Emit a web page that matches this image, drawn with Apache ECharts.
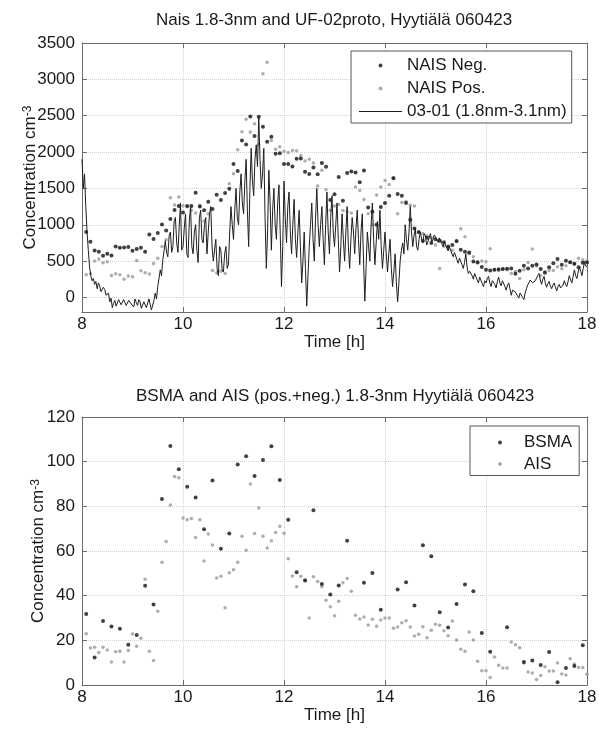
<!DOCTYPE html>
<html><head><meta charset="utf-8">
<script src="https://cdn.jsdelivr.net/npm/echarts@6/dist/echarts.min.js"></script>
<style>html,body{margin:0;padding:0;background:#fff}#c{width:599px;height:732px}</style>
</head><body><div id="c"></div>
<script>
// ---- data ----
const topTitle = 'Nais 1.8-3nm and UF-02proto, Hyytiälä 060423';
const bottomTitle = 'BSMA and AIS (pos.+neg.) 1.8-3nm Hyytiälä 060423';
const topYTicks = [0, 500, 1000, 1500, 2000, 2500, 3000, 3500];
const bottomYTicks = [0, 20, 40, 60, 80, 100, 120];

// 03-01 (1.8nm-3.1nm) line, 1.5-min samples from 8.00 h (one row per half hour)
const lineStart = 8, lineStep = 0.025;
const line0301 = [
  1900, 1500, 1700, 1250, 900, 650, 420, 300, 230, 260, 180, 220, 120, 200, 160, 80, 60, 140, 110, 30,
  10, 60, -60, -10, -140, -80, -40, -120, -110, -30, -20, -100, -90, -30, -50, -110, -120, -40, -30, -90,
  -80, -130, -20, -70, -110, -30, -60, -150, -170, -60, -40, -140, -150, -20, -30, -170, -180, -40, 60, -20,
  150, 260, 380, 300, 520, 640, 780, 620, 560, 850, 900, 620, 700, 1050, 1100, 750, 620, 980, 1300, 650,
  700, 950, 1150, 600, 550, 1050, 1250, 700, 600, 900, 1000, 650, 480, 1100, 1200, 800, 750, 1000, 1100, 600,
  900, 1150, 1250, 700, 500, 650, 800, 400, 300, 700, 650, 380, 350, 600, 700, 400, 450, 900, 1250, 1000,
  800, 1200, 1500, 1100, 1000, 1450, 1700, 1300, 1150, 1600, 1900, 1200, 700, 1500, 2050, 1600, 1400, 1900, 2100, 1800,
  2480, 1900, 1500, 1700, 2050, 1100, 400, 900, 1750, 1300, 650, 1200, 1500, 1000, 800, 1300, 1550, 900, 150, 700,
  1600, 1100, 750, 1250, 1450, 900, 600, 1000, 1350, 800, 550, 900, 1200, 700, 200, 500, 900, 400, -120, 300,
  700, 1000, 1300, 800, 500, 1100, 1500, 1000, 700, 1000, 1250, 800, 450, 1000, 1450, 900, 600, 1100, 1400, 900,
  700, 1000, 1300, 800, 350, 700, 1150, 800, 500, 900, 1250, 700, 400, 800, 1100, 900, 600, 950, 1200, 800,
  450, 900, 1150, 500, -50, 400, 900, 700, 500, 1000, 1300, 800, 450, 750, 1050, 800, 1200, 700, 400, 650,
  900, 600, 350, 600, 800, 400, 150, 350, 600, 200, -60, 200, 500, 650, 750, 600, 1000, 800, 650, 900,
  1250, 900, 700, 850, 950, 700, 650, 800, 900, 800, 750, 880, 850, 720, 700, 820, 880, 760, 800, 860,
  850, 800, 760, 820, 800, 740, 700, 760, 740, 680, 640, 700, 680, 600, 560, 620, 600, 520, 470, 540,
  520, 450, 400, 480, 600, 420, 330, 360, 380, 300, 250, 330, 320, 240, 200, 280, 260, 190, 150, 230,
  200, 260, 290, 200, 150, 230, 250, 180, 130, 220, 280, 200, 160, 230, 240, 150, 100, 170, 200, 120,
  30, 100, 120, 80, 60, 20, -10, 60, 80, 0, -30, 60, 120, 170, 200, 240, 260, 200, 180, 230,
  250, 300, 330, 240, 180, 250, 290, 200, 140, 190, 220, 160, 120, 170, 200, 140, 90, 150, 180, 130,
  110, 170, 230, 180, 150, 220, 300, 240, 200, 290, 380, 300, 260, 350, 420, 360, 300, 400, 480, 430,
  420
];

// NAIS, 5-min samples from 8:05
const naisStart = 8 + 1 / 12, naisStep = 1 / 12;
const naisNeg = [
  900, 766, 647, 628, 573, 601, 578, 702, 683, 688,
  693, 642, 665, 683, 628, 867, 803, 885, 1005, 922,
  1080, 1202, 1257, 1170, 1257, 1257, 1440, 1250, 1200, 1317,
  1216, 1413, 1340, 1436, 1495, 1837, 1740, 2158, 2104, 2488,
  2220, 2486, 2349, 2142, 2211, 1975, 1984, 1835, 1837, 1800,
  1908, 1913, 1729, 1697, 1789, 1693, 1849, 1798, 1340, 1420,
  1656, 1330, 1711, 1734, 1720, 1583, 1748, 1239, 1180, 1000,
  1243, 1300, 1399, 1640, 1422, 1399, 1300, 1069, 950, 899,
  780, 820, 750, 800, 780, 760, 700, 720, 775, 656,
  628, 619, 495, 480, 420, 381, 372, 381, 381, 390,
  394, 399, 326, 367, 436, 399, 436, 454, 390, 339,
  417, 472, 528, 450, 505, 486, 463, 417, 477, 480
];
const naisPos = [
  312, 326, 500, 528, 477, 491, 303, 326, 312, 252,
  294, 284, 509, 367, 339, 321, 468, 541, 700, 794,
  1372, 1271, 1381, 1261, 1248, 1200, 1160, 1270, 1050, 1150,
  370, 340, 360, 330, 1564, 1700, 2030, 2278, 2450, 2275,
  2390, 2100, 3078, 3234, 2158, 2040, 2073, 2010, 1995, 2020,
  2018, 1954, 1876, 1900, 1849, 1532, 1750, 1480, 1200, 1257,
  1280, 1197, 1179, 1161, 1518, 1472, 1349, 1150, 1000, 1410,
  1518, 1610, 1555, 1647, 1150, 1307, 1321, 1270, 1257, 894,
  880, 850, 820, 720, 399, 700, 680, 650, 771, 945,
  835, 600, 560, 495, 500, 490, 670, 381, 400, 390,
  380, 330, 358, 261, 380, 482, 665, 431, 298, 358,
  372, 372, 422, 395, 436, 486, 459, 541, 518, 500
];

// BSMA, 10-min samples from 8:05
const bsmaStart = 8 + 1 / 12, bsmaStep = 1 / 6;
const bsma = [
  31.8, 12.3, 28.7, 26.2, 25.2, 18, 22.4, 44.4, 36, 83.3,
  107, 96.6, 88.8, 84, 69.7, 91.6, 61, 67.8, 98.7, 102.4,
  93.6, 100.7, 106.9, 91.8, 74, 50.5, 46.8, 78.2, 45.2, 40.5,
  44.5, 64.6, null, 45.8, 50.2, 33.7, null, 42.8, 46, 35.6,
  62.6, 57.7, 32.6, 25.7, 36.3, 45, 42, 23.3, 14.9, null,
  25.9, null, 10.3, 11, 9, 14.8, 1.2, 7.6, 8.5, 17.8
];
// AIS, 5-min samples from 8:05
const aisStart = 8 + 1 / 12, aisStep = 1 / 12;
const ais = [
  23, 16.6, 16.9, 14.6, 16.9, 15.7, 10.3, 14.9, 15.1, 10.3,
  15.5, 22.8, 17.3, 20.9, 47.3, 15.1, 11, 33, 55, 64.3,
  80.6, 93.4, 92.8, 74.8, 74, 74.6, 66.1, 74, 55.5, 67.6,
  62.7, 47.9, 48.7, 34.6, 50.3, 51.6, 55, 66.6, 60.3, 90,
  67.8, 79.3, 66.6, 61.3, 64.6, 68.3, 71.1, 68, 56.5, 48.8,
  44, 48.7, 47, 30, 48.5, 46.3, 44, 38, 35, 31,
  37.5, 45.8, 47.7, 42, 31.2, 29.6, 30.4, 26.9, 29.4, 26.3,
  29.1, 30, 30, 25.4, 26, 27.9, 28.8, 26, 21.9, 22.7,
  26.1, 21.2, 24.5, 27.2, 26.7, 24.3, 22.1, 28.7, 20.1, 16,
  15.1, 23.7, 20.1, 10.6, 6.4, 6.4, 3.4, 12.5, 8.8, 7.6,
  7.6, 19.3, 18, 16.7, 9.9, 5.8, 5.4, 2.5, 4.3, 8.2,
  6.3, 6.3, 9.9, 4.9, 4.5, 11.8, 9.4, 7.8, 7.8, 4.8
];

// ---- chart ----
function pairs(start, step, vals) {
  const out = [];
  vals.forEach((v, i) => { if (v !== null) out.push([start + i * step, v]); });
  return out;
}
const FONT = '"Liberation Sans", Arial, sans-serif';
const TXT = '#1a1a1a';
const FRAME = '#6a6a6a';
const GRIDC = '#d2d2d2';

function xAxis(gridIndex, pos) {
  const bottom = pos === 'bottom';
  return {
    type: 'value', gridIndex, position: pos, min: 8, max: 18, interval: 2,
    axisLine: { show: true, onZero: false, lineStyle: { color: FRAME, width: 1 } },
    axisTick: { show: true, inside: true, length: 5, lineStyle: { color: FRAME } },
    axisLabel: { show: bottom, margin: 4, fontSize: 17, color: TXT, fontFamily: FONT,
      formatter: v => String(v) },
    splitLine: { show: bottom, lineStyle: { color: GRIDC, type: 'dotted' } },
    name: bottom ? 'Time [h]' : '', nameLocation: 'middle', nameGap: 22, nameMoveOverlap: false,
    nameTextStyle: { fontSize: 17, color: TXT, fontFamily: FONT }
  };
}
function yAxis(gridIndex, pos, min, max, ticks, nameGap) {
  const left = pos === 'left';
  return {
    type: 'value', gridIndex, position: pos, min, max,
    axisLine: { show: true, onZero: false, lineStyle: { color: FRAME, width: 1 } },
    axisTick: { show: true, inside: true, length: 5, lineStyle: { color: FRAME }, customValues: ticks },
    axisLabel: { show: left, margin: 7, fontSize: 17, color: TXT, fontFamily: FONT, customValues: ticks,
      formatter: v => String(v) },
    splitLine: { show: left, lineStyle: { color: GRIDC, type: 'dotted' } },
    name: left ? 'Concentration cm{s|-3}' : '', nameLocation: 'middle', nameGap: nameGap || 40,
    nameMoveOverlap: false,
    nameTextStyle: {
      fontSize: 17, color: TXT, fontFamily: FONT, lineHeight: 17,
      rich: { s: { fontSize: 12, color: TXT, fontFamily: FONT, verticalAlign: 'top', lineHeight: 12 } }
    }
  };
}
function legend(left, top, padding, itemWidth, itemGap, data) {
  return {
    show: true, orient: 'vertical', left, top, padding, itemWidth, itemHeight: 4, itemGap,
    borderColor: '#555', borderWidth: 1, backgroundColor: '#fff', borderRadius: 0,
    textStyle: { fontSize: 17, color: TXT, fontFamily: FONT },
    selectedMode: false, data
  };
}

const chart = echarts.init(document.getElementById('c'), null, { renderer: 'canvas' });
chart.setOption({
  animation: false,
  backgroundColor: '#fff',
  textStyle: { fontFamily: FONT },
  title: [
    { text: topTitle, left: 156, top: 12, padding: 0,
      textStyle: { fontSize: 17, fontWeight: 'normal', color: TXT, fontFamily: FONT } },
    { text: bottomTitle, left: 136, top: 388, padding: 0,
      textStyle: { fontSize: 17, fontWeight: 'normal', color: TXT, fontFamily: FONT } }
  ],
  grid: [
    { left: 82, top: 43, width: 505, height: 269, outerBoundsMode: 'none' },
    { left: 82, top: 417, width: 505, height: 268, outerBoundsMode: 'none' }
  ],
  xAxis: [xAxis(0, 'bottom'), xAxis(0, 'top'), xAxis(1, 'bottom'), xAxis(1, 'top')],
  yAxis: [
    yAxis(0, 'left', -200, 3500, topYTicks, 43), yAxis(0, 'right', -200, 3500, topYTicks),
    yAxis(1, 'left', 0, 120, bottomYTicks, 35), yAxis(1, 'right', 0, 120, bottomYTicks)
  ],
  legend: [
    legend(351, 51, [6, 5, 3, 8], 43, 6, ['NAIS Neg.', 'NAIS Pos.',
      { name: '03-01 (1.8nm-3.1nm)', icon: 'path://M0,0L43,0L43,1L0,1Z' }]),
    legend(470, 426, [8, 7, 3, 28], 38, 4.5, ['BSMA', 'AIS'])
  ],
  series: [
    { type: 'scatter', name: 'NAIS Neg.', xAxisIndex: 0, yAxisIndex: 0, symbol: 'circle', symbolSize: 4,
      itemStyle: { color: '#111' }, data: pairs(naisStart, naisStep, naisNeg), z: 3 },
    { type: 'scatter', name: 'NAIS Pos.', xAxisIndex: 0, yAxisIndex: 0, symbol: 'circle', symbolSize: 3.5,
      itemStyle: { color: '#999' }, data: pairs(naisStart, naisStep, naisPos), z: 2 },
    { type: 'line', name: '03-01 (1.8nm-3.1nm)', xAxisIndex: 0, yAxisIndex: 0, symbol: 'none', showSymbol: false,
      lineStyle: { color: '#1e1e1e', width: 1 }, itemStyle: { color: '#1e1e1e' },
      data: pairs(lineStart, lineStep, line0301), clip: true, z: 4 },
    { type: 'scatter', name: 'BSMA', xAxisIndex: 2, yAxisIndex: 2, symbol: 'circle', symbolSize: 4,
      itemStyle: { color: '#111' }, data: pairs(bsmaStart, bsmaStep, bsma), z: 3 },
    { type: 'scatter', name: 'AIS', xAxisIndex: 2, yAxisIndex: 2, symbol: 'circle', symbolSize: 3.5,
      itemStyle: { color: '#999' }, data: pairs(aisStart, aisStep, ais), z: 2 }
  ]
});
</script>
</body></html>
